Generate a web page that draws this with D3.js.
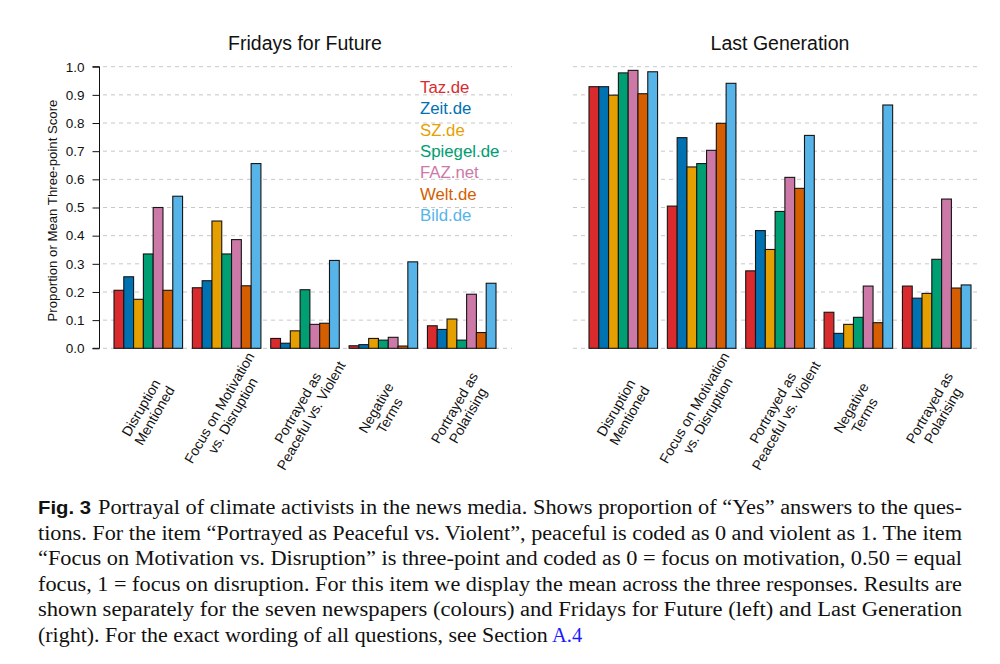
<!DOCTYPE html>
<html>
<head>
<meta charset="utf-8">
<script src="https://cdn.jsdelivr.net/npm/d3@7"></script>
<style>
    body { margin: 0; background: #fff; }
    svg { display: block; }
    .sans { font-family: "Liberation Sans", Arial, Helvetica, sans-serif; }
    .caption { font-family: "Liberation Serif", "Times New Roman", serif; }
</style>
</head>
<body>
<svg id="chart" width="1000" height="664"></svg>
<script>

const items = [
    ['Disruption', 'Mentioned'],
    ['Focus on Motivation', 'vs. Disruption'],
    ['Portrayed as', 'Peaceful vs. Violent'],
    ['Negative', 'Terms'],
    ['Portrayed as', 'Polarising']
];
const papers = ['Taz.de', 'Zeit.de', 'SZ.de', 'Spiegel.de', 'FAZ.net', 'Welt.de', 'Bild.de'];
const paperColors = ['#D92B2E', '#0072B2', '#E69F00', '#009E73', '#CC79A7', '#D55E00', '#56B4E9'];
const yTicks = [0, 0.1, 0.2, 0.3, 0.4, 0.5, 0.6, 0.7, 0.8, 0.9, 1.0];

// rows = items, columns = papers
const fffValues = [
    [0.206, 0.254, 0.174, 0.335, 0.500, 0.206, 0.540],
    [0.215, 0.240, 0.452, 0.335, 0.386, 0.222, 0.656],
    [0.035, 0.018, 0.062, 0.208, 0.085, 0.089, 0.312],
    [0.009, 0.013, 0.035, 0.029, 0.039, 0.008, 0.307],
    [0.080, 0.067, 0.104, 0.029, 0.192, 0.056, 0.231]
];
const lgValues = [
    [0.929, 0.929, 0.899, 0.978, 0.987, 0.904, 0.982],
    [0.505, 0.748, 0.644, 0.656, 0.703, 0.799, 0.941],
    [0.275, 0.418, 0.351, 0.486, 0.607, 0.568, 0.756],
    [0.128, 0.053, 0.085, 0.110, 0.221, 0.091, 0.864],
    [0.221, 0.178, 0.195, 0.316, 0.530, 0.214, 0.225]
];

const captionLines = [
    'Portrayal of climate activists in the news media. Shows proportion of \u201cYes\u201d answers to the ques-',
    'tions. For the item \u201cPortrayed as Peaceful vs. Violent\u201d, peaceful is coded as 0 and violent as 1. The item',
    '\u201cFocus on Motivation vs. Disruption\u201d is three-point and coded as 0 = focus on motivation, 0.50 = equal',
    'focus, 1 = focus on disruption. For this item we display the mean across the three responses. Results are',
    'shown separately for the seven newspapers (colours) and Fridays for Future (left) and Last Generation',
    '(right). For the exact wording of all questions, see Section '
];

const svg = d3.select('#chart');
const y = d3.scaleLinear().domain([0, 1]).range([348.3, 66.7]);

const panels = [
    {title: 'Fridays for Future', values: fffValues, range: [114, 496], grid: [103, 512], axis: true},
    {title: 'Last Generation', values: lgValues, range: [589, 971], grid: [573, 977], axis: false}
];

panels.forEach(({title, values, range, grid, axis}) => {

    const x = d3.scaleBand()
        .domain(d3.range(items.length))
        .range(range)
        .paddingInner(1/8)
        .paddingOuter(0);

    const xInner = d3.scaleBand()
        .domain(d3.range(papers.length))
        .range([0, x.bandwidth()]);

    const g = svg.append('g');

    // dashed grid
    g.selectAll('.grid')
        .data(yTicks)
        .enter()
        .append('line')
        .attr('x1', grid[0])
        .attr('x2', grid[1])
        .attr('y1', d => y(d))
        .attr('y2', d => y(d))
        .attr('stroke', '#c8c8c8')
        .attr('stroke-width', 1)
        .attr('stroke-dasharray', '4,4');

    const groups = g.selectAll('.group')
        .data(values)
        .enter()
        .append('g')
        .attr('transform', (d, i) => `translate(${x(i)},0)`);

    groups.selectAll('rect')
        .data(d => d)
        .enter()
        .append('rect')
        .attr('x', (d, i) => xInner(i))
        .attr('width', xInner.bandwidth())
        .attr('y', d => y(d))
        .attr('height', d => y(0) - y(d))
        .attr('fill', (d, i) => paperColors[i])
        .attr('stroke', '#151515')
        .attr('stroke-width', 1.1);

    // rotated two-line item labels
    const labels = g.selectAll('.itemLabel')
        .data(items)
        .enter()
        .append('text')
        .attr('class', 'sans')
        .attr('font-size', 14)
        .attr('fill', '#111')
        .attr('text-anchor', 'middle')
        .attr('transform', (d, i) => `translate(${x(i) + x.bandwidth() / 2},412) rotate(-60)`);

    labels.selectAll('tspan')
        .data(d => d)
        .enter()
        .append('tspan')
        .attr('x', 0)
        .attr('y', (d, i) => i ? 12 : -3.5)
        .text(d => d);

    g.append('text')
        .attr('class', 'sans')
        .attr('x', (range[0] + range[1]) / 2)
        .attr('y', 50)
        .attr('text-anchor', 'middle')
        .attr('font-size', 19.5)
        .attr('fill', '#111')
        .text(title);

    if (!axis) return;

    const yAxis = g.append('g')
        .attr('transform', 'translate(99.5,0)')
        .call(d3.axisLeft(y).tickValues(yTicks).tickFormat(d3.format('.1f')).tickSize(7).tickPadding(8));

    yAxis.attr('font-family', null).attr('class', 'sans');
    yAxis.select('.domain').attr('stroke', '#111').attr('d', `M-7,${y(0)}H0V${y(1)}H-7`);
    yAxis.selectAll('.tick line').attr('stroke', '#111');
    yAxis.selectAll('.tick text').attr('font-size', 13.5).attr('fill', '#111');

    g.append('text')
        .attr('class', 'sans')
        .attr('transform', `translate(57,${y(0.5) + 3}) rotate(-90)`)
        .attr('text-anchor', 'middle')
        .attr('font-size', 13.2)
        .attr('fill', '#111')
        .text('Proportion or Mean Three-point Score');
});

// legend
svg.append('g')
    .selectAll('text')
    .data(papers)
    .enter()
    .append('text')
    .attr('class', 'sans')
    .attr('x', 420)
    .attr('y', (d, i) => 93 + i * 21.3)
    .attr('font-size', 16.8)
    .attr('fill', (d, i) => paperColors[i])
    .text(d => d);

// caption
const caption = svg.append('g').attr('class', 'caption').attr('font-size', 20.5).attr('fill', '#111');

caption.selectAll('text')
    .data(captionLines)
    .enter()
    .append('text')
    .attr('y', (d, i) => 514 + i * 25.6)
    .each(function(d, i) {
        const t = d3.select(this);
        t.attr('x', 38);
        if (i === 0) {
            t.append('tspan')
                .attr('font-family', '"Liberation Sans", Arial, sans-serif')
                .attr('font-weight', 'bold')
                .attr('font-size', 19)
                .attr('textLength', 53)
                .attr('lengthAdjust', 'spacingAndGlyphs')
                .text('Fig. 3');
            t.append('tspan')
                .attr('x', 98)
                .attr('textLength', 864)
                .attr('lengthAdjust', 'spacingAndGlyphs')
                .text(d);
        } else if (i < captionLines.length - 1) {
            t.attr('textLength', 924)
                .attr('lengthAdjust', 'spacingAndGlyphs')
                .text(d);
        } else {
            t.append('tspan')
                .attr('textLength', 514)
                .attr('lengthAdjust', 'spacingAndGlyphs')
                .text(d);
            t.append('tspan')
                .attr('fill', '#1a1aff')
                .text('A.4');
        }
    });

</script>
</body>
</html>
